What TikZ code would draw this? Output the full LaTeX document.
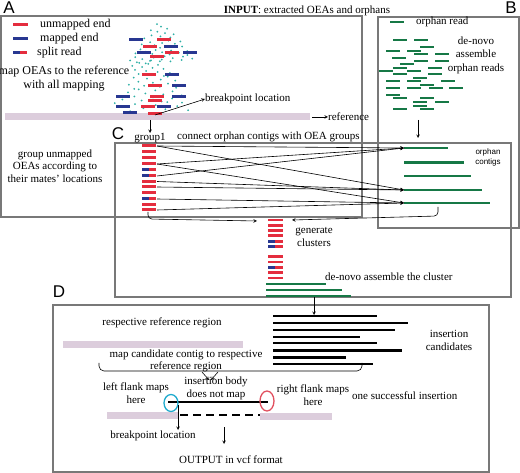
\documentclass[tikz,border=0pt]{standalone}
\usepackage{fontspec}
\setmainfont{Liberation Serif}
\newfontfamily\panelfont{Liberation Sans}
\usepackage{tikz}
\usetikzlibrary{calc}
\definecolor{readred}{RGB}{228,45,62}
\definecolor{readblue}{RGB}{40,55,145}
\definecolor{orphgreen}{RGB}{22,120,70}
\definecolor{refpink}{RGB}{220,205,220}
\definecolor{dotcyan}{RGB}{45,175,165}
\definecolor{boxgray}{RGB}{120,120,120}
\definecolor{ellcyan}{RGB}{30,170,205}
\definecolor{ellred}{RGB}{225,80,95}
\tikzset{
  box/.style={draw=boxgray, line width=1.1pt},
  redread/.style={draw=readred, line width=3pt},
  blueread/.style={draw=readblue, line width=3pt},
  greenread/.style={draw=orphgreen, line width=2.5pt},
  blackcontig/.style={draw=black, line width=2.5pt},
  refbar/.style={draw=refpink, line width=7pt},
  txt/.style={inner sep=0pt, align=center, font=\fontsize{11}{13}\selectfont},
  bigtxt/.style={inner sep=0pt, align=center, font=\fontsize{12}{14}\selectfont},
  paneltag/.style={inner sep=0pt, font=\panelfont\fontsize{17}{17}\selectfont},
  conn/.style={-stealth, line width=0.6pt},
}
\def\splitread(#1,#2){\draw[blueread] (#1,#2) -- ++(7,0); \draw[redread] (#1+7,#2) -- ++(7,0);}

\begin{document}
\begin{tikzpicture}[x=1pt, y=-1pt]
	%%%%% START %%%%%
	\useasboundingbox (0,0) rectangle (520,473);

	% panels
	\draw[box] (1,16) rectangle (362,217);
	\draw[box] (378,17) rectangle (519,228);
	\draw[box] (115,143) rectangle (511,297);
	\draw[box] (53,305) rectangle (489,472);
	\node[paneltag] (tagA) at (9,8) {A};
	\node[paneltag] (tagB) at (511,8) {B};
	\node[paneltag] (tagC) at (118,134) {C};
	\node[paneltag] (tagD) at (59,292) {D};

	\node[txt] (input) at (307,11) {\textbf{INPUT}: extracted OEAs and orphans};

	% legend
	\draw[redread] (13,25) -- (28,25);
	\node[bigtxt, anchor=west] (lgunmapped) at (40,25) {unmapped end};
	\draw[blueread] (13,39) -- (28,39);
	\node[bigtxt, anchor=west] (lgmapped) at (40,39) {mapped end};
	\splitread(13,53)
	\node[bigtxt, anchor=west] (lgsplit) at (37,53) {split read};

	\node[bigtxt] (mapoea) at (64,79) {map OEAs to the reference\\with all mapping};

	% reference of A
	\draw[refbar] (5,117) -- (310,117);
	\node[txt, anchor=west] (reflabel) at (328,117) {reference};
	\coordinate (refend) at (312,117);
	\draw[conn] (refend) -- (reflabel);

	% OEAs piled on the reference
	\foreach \i in {1,...,45} {
		\pgfmathsetmacro\uu{mod(\i*0.7548777,1)}
		\pgfmathsetmacro\vv{mod(\i*0.5698403,1)}
		\pgfmathsetmacro\yy{18+44*sqrt(\uu)}
		\pgfmathsetmacro\wide{2+0.8*(\yy-18)}
		\fill[dotcyan] (160-\wide+2*\wide*\vv,\yy) circle (1pt);
	}
	\foreach \i in {1,...,55} {
		\pgfmathsetmacro\uu{mod(\i*0.7548777+0.3,1)}
		\pgfmathsetmacro\vv{mod(\i*0.5698403+0.6,1)}
		\pgfmathsetmacro\yy{60+52*\uu}
		\pgfmathsetmacro\wide{15+0.5*(\yy-60)}
		\fill[dotcyan] (150-\wide+2*\wide*\vv,\yy) circle (1pt);
	}
	\foreach \x/\y in {129/40,164/47,137/53,183/53,165/75,172/86,116/97,172/97,116/107,157/107,123/113}
		\draw[blueread] (\x,\y) -- ++(14,0);
	\foreach \x/\y in {157/40,143/47,165/53,150/57,142/75,148/86,150/97,148/101,141/107,148/114}
		\draw[redread] (\x,\y) -- ++(14,0);

	\coordinate (bpread) at (155,115);
	\node[txt, anchor=west] (bplabel) at (205,99) {breakpoint location};
	\draw[conn] (bpread) -- (bplabel.west);

	% C: group of unmapped ends
	\coordinate (grouptop) at (150,120);
	\node[txt] (group1) at (150,138) {group1};
	\draw[conn] (grouptop) -- (150,133);
	\node[txt, anchor=west] (connect) at (177,137) {connect orphan contigs with OEA groups};
	\node[txt, font=\fontsize{11}{12.5}\selectfont] (grouptxt) at (55,166) {group unmapped\\OEAs according to\\their mates' locations};

	\foreach \i/\y in {1/146,2/152,3/158,4/164,7/181.5,8/187,9/193,11/204.5,12/210}
		\draw[redread] (142,\y) -- (156,\y);
	\foreach \i/\y in {5/170,6/176,10/199}
		\splitread(142,\y)
	\foreach \i/\y in {1/146,4/164,6/176,7/181.5,8/187,10/199,12/210}
		\coordinate (g\i) at (157,\y);

	% B: orphan reads
	\draw[greenread] (390,22) -- (404,22);
	\node[txt, anchor=west] (lgorphan) at (416,22) {orphan read};
	\node[txt, font=\fontsize{11}{13.5}\selectfont] (denovoB) at (476,55) {de-novo\\assemble\\orphan reads};
	\foreach \x/\y in {393/40,414/40,420/47,386/51,407/51,414/54,435/54,392/58,414/61,435/61,400/64,393/68,428/68,379/71,407/71,393/74,428/74,413/78,386/81,407/81,441/81,420/85,386/88,407/88,429/88,449/88,386/95,393/98,420/98,413/102,435/102,413/106,393/109,420/109}
		\draw[greenread] (\x,\y) -- ++(14,0);
	\coordinate (Bdown) at (418,120);
	\draw[conn] (Bdown) -- (418,138);

	% orphan contigs
	\foreach \i/\y/\e in {1/148/448,2/162.5/464,3/176/471,4/190/482,5/203/490} {
		\draw[greenread] (404,\y) -- (\e,\y);
		\coordinate (oc\i) at (404,\y);
	}
	\node[txt, font=\panelfont\fontsize{8}{10}\selectfont] (contiglabel) at (488,157) {orphan\\contigs};

	\draw[conn] (g1) -- (oc1);
	\draw[conn] (g1) -- (oc4);
	\draw[conn] (g4) -- (oc1);
	\draw[conn] (g4) -- (oc5);
	\draw[conn] (g6) -- (oc1);
	\draw[conn] (g7) -- (oc4);
	\draw[conn] (g8) -- (oc4);
	\draw[conn] (g10) -- (oc5);
	\draw[conn] (g12) -- (oc5);

	% clusters
	\foreach \y in {220,225.3,230.6,235.9,256.8,262.1,272.7,278}
		\draw[redread, line width=2.8pt] (268,\y) -- (283,\y);
	\foreach \y in {241.2,246.5,267.4} {
		\draw[blueread, line width=2.8pt] (268,\y) -- ++(7,0);
		\draw[redread, line width=2.8pt] (275,\y) -- ++(8,0);
	}
	\coordinate (groupbottom) at (148,212);
	\coordinate (contigbottom) at (438,207);
	\draw[conn, rounded corners=4pt] (groupbottom) -- (148,219) -- (257,221);
	\draw[conn, rounded corners=4pt] (contigbottom) -- (438,216) -- (292,220);
	\node[txt] (generate) at (314,237) {generate\\clusters};
	\node[txt, anchor=west] (denovoC) at (325,277) {de-novo assemble the cluster};
	\draw[greenread] (266,284) -- (326,284);
	\draw[greenread] (266,290) -- (342,290);
	\draw[greenread] (266,296) -- (351,296);
	\coordinate (clusterend) at (314,297);
	\draw[conn] (clusterend) -- (314,315);

	% D: insertion candidates
	\foreach \y/\e in {316/377,323/408,330/395,337/360,343/377,350.5/402,357.5/346,364/373}
		\draw[blackcontig] (273,\y) -- (\e,\y);
	\node[txt] (candidates) at (449,340) {insertion\\candidates};
	\node[txt] (respective) at (162,323) {respective reference region};
	\draw[refbar] (63,345) -- (243,345);
	\node[txt, font=\fontsize{11}{12}\selectfont] (mapcand) at (186,361) {map candidate contig to respective\\reference region};
	\draw[line width=0.6pt, rounded corners=5pt] (99,363) -- (99,371) -- (362,371) -- (362,363);
	\draw[conn] (202,372) -- (209,380);
	\draw[conn] (218,372) -- (211,380);

	% D: one successful insertion
	\node[txt] (leftflank) at (136,393) {left flank maps\\here};
	\node[txt] (body) at (216,388) {insertion body\\does not map};
	\node[txt] (rightflank) at (313,395) {right flank maps\\here};
	\node[txt, anchor=west] (success) at (352,396) {one successful insertion};
	\draw[refbar] (107,415) -- (178,415);
	\draw[refbar] (260,416) -- (332,416);
	\draw[blackcontig] (168,402) -- (268,402);
	\draw[line width=2.2pt, dash pattern=on 8pt off 5pt] (180,415) -- (260,415);
	\draw[ellcyan, line width=1.3pt] (171,403) ellipse (7pt and 8.5pt);
	\draw[ellred, line width=1.3pt] (267,401) ellipse (7pt and 10pt);
	\coordinate (bpD) at (178,405);
	\node[txt] (bpDlabel) at (153,436) {breakpoint location};
	\draw[conn] (bpD) -- (178,430);
	\coordinate (outtop) at (224,427);
	\node[txt] (output) at (231,460) {OUTPUT in vcf format};
	\draw[conn] (outtop) -- (224,444);
	%%%%% END %%%%%
\end{tikzpicture}
\end{document}
